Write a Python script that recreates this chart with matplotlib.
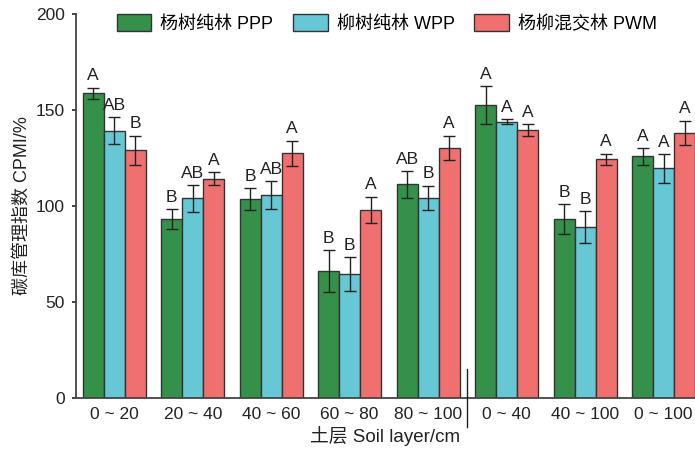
import matplotlib
matplotlib.use("Agg")
import matplotlib.pyplot as plt
import numpy as np

plt.rcParams['font.family'] = ['Liberation Sans', 'Noto Sans CJK SC', 'DejaVu Sans']

categories = ["0 ~ 20", "20 ~ 40", "40 ~ 60", "60 ~ 80", "80 ~ 100", "0 ~ 40", "40 ~ 100", "0 ~ 100"]
series_names = ["杨树纯林 PPP", "柳树纯林 WPP", "杨柳混交林 PWM"]
ppp = [158.6, 93.2, 103.6, 66.2, 111.3, 152.5, 93.2, 125.8]
wpp = [139.2, 104.0, 105.7, 64.6, 104.3, 143.8, 89.2, 119.6]
pwm = [129.0, 114.2, 127.4, 97.9, 130.3, 139.5, 124.3, 138.1]
ppp_err = [3.0, 5.3, 5.8, 10.8, 7.0, 10.0, 8.0, 4.5]
wpp_err = [7.0, 7.0, 7.3, 9.0, 6.3, 1.2, 8.2, 7.4]
pwm_err = [7.6, 3.5, 6.6, 7.0, 6.3, 3.0, 3.0, 6.3]
ppp_sig = ["A", "B", "B", "B", "AB", "A", "B", "A"]
wpp_sig = ["AB", "AB", "AB", "B", "B", "A", "B", "A"]
pwm_sig = ["B", "A", "A", "A", "A", "A", "A", "A"]
yticks = [0, 50, 100, 150, 200]

colors = ["#35904a", "#66c8d5", "#f07070"]

fig = plt.figure(figsize=(6.95, 4.51), dpi=100)
ax = fig.add_axes([76/695, (451-398.3)/451, 1 - 76/695, (398.3-13.7)/451])

x = np.arange(len(categories))
w = 0.267
vals = [ppp, wpp, pwm]
errs = [ppp_err, wpp_err, pwm_err]
sigs = [ppp_sig, wpp_sig, pwm_sig]
for i in range(3):
    pos = x + (i - 1) * w
    ax.bar(pos, vals[i], width=w, color=colors[i], edgecolor="#333333", linewidth=1.0,
           label=series_names[i], zorder=2)
    ax.errorbar(pos, vals[i], yerr=errs[i], fmt="none", ecolor="#222222", elinewidth=1.0,
                capsize=4, capthick=1.0, zorder=3)
    for p, v, e, s in zip(pos, vals[i], errs[i], sigs[i]):
        ax.annotate(s, (p, v + e), xytext=(0, 3), textcoords="offset points",
                    ha="center", va="bottom", fontsize=12.5, color="#222222")

ax.set_xlim(-0.487, 7.4)
ax.set_ylim(0, 200)
ax.set_yticks(yticks)
ax.set_xticks(x)
ax.set_xticklabels(categories)
ax.tick_params(axis="x", length=0, labelsize=12.5, colors="#222222", pad=6)
ax.tick_params(axis="y", length=3, width=1.2, labelsize=12.5, colors="#222222",
               direction="out", pad=5)
for s in ["top", "right"]:
    ax.spines[s].set_visible(False)
for s in ["left", "bottom"]:
    ax.spines[s].set_linewidth(1.3)
    ax.spines[s].set_color("#444444")

# separator line
ax.plot([4.5, 4.5], [0.075, -0.075], color="#222222", linewidth=1.0, clip_on=False, zorder=4,
        transform=ax.get_xaxis_transform())

ax.set_ylabel("碳库管理指数 CPMI/%", fontsize=13, color="#222222", labelpad=4)
ax.set_xlabel("土层 Soil layer/cm", fontsize=13.5, color="#222222", labelpad=3)

leg = ax.legend(loc="upper left", bbox_to_anchor=(117/695, 1 - 14/451),
                bbox_transform=fig.transFigure, ncol=3, frameon=False, fontsize=13,
                handlelength=1.9, handleheight=1.1, handletextpad=0.5,
                columnspacing=1.1, borderpad=0, borderaxespad=0)

fig.savefig("out.png", dpi=100)
